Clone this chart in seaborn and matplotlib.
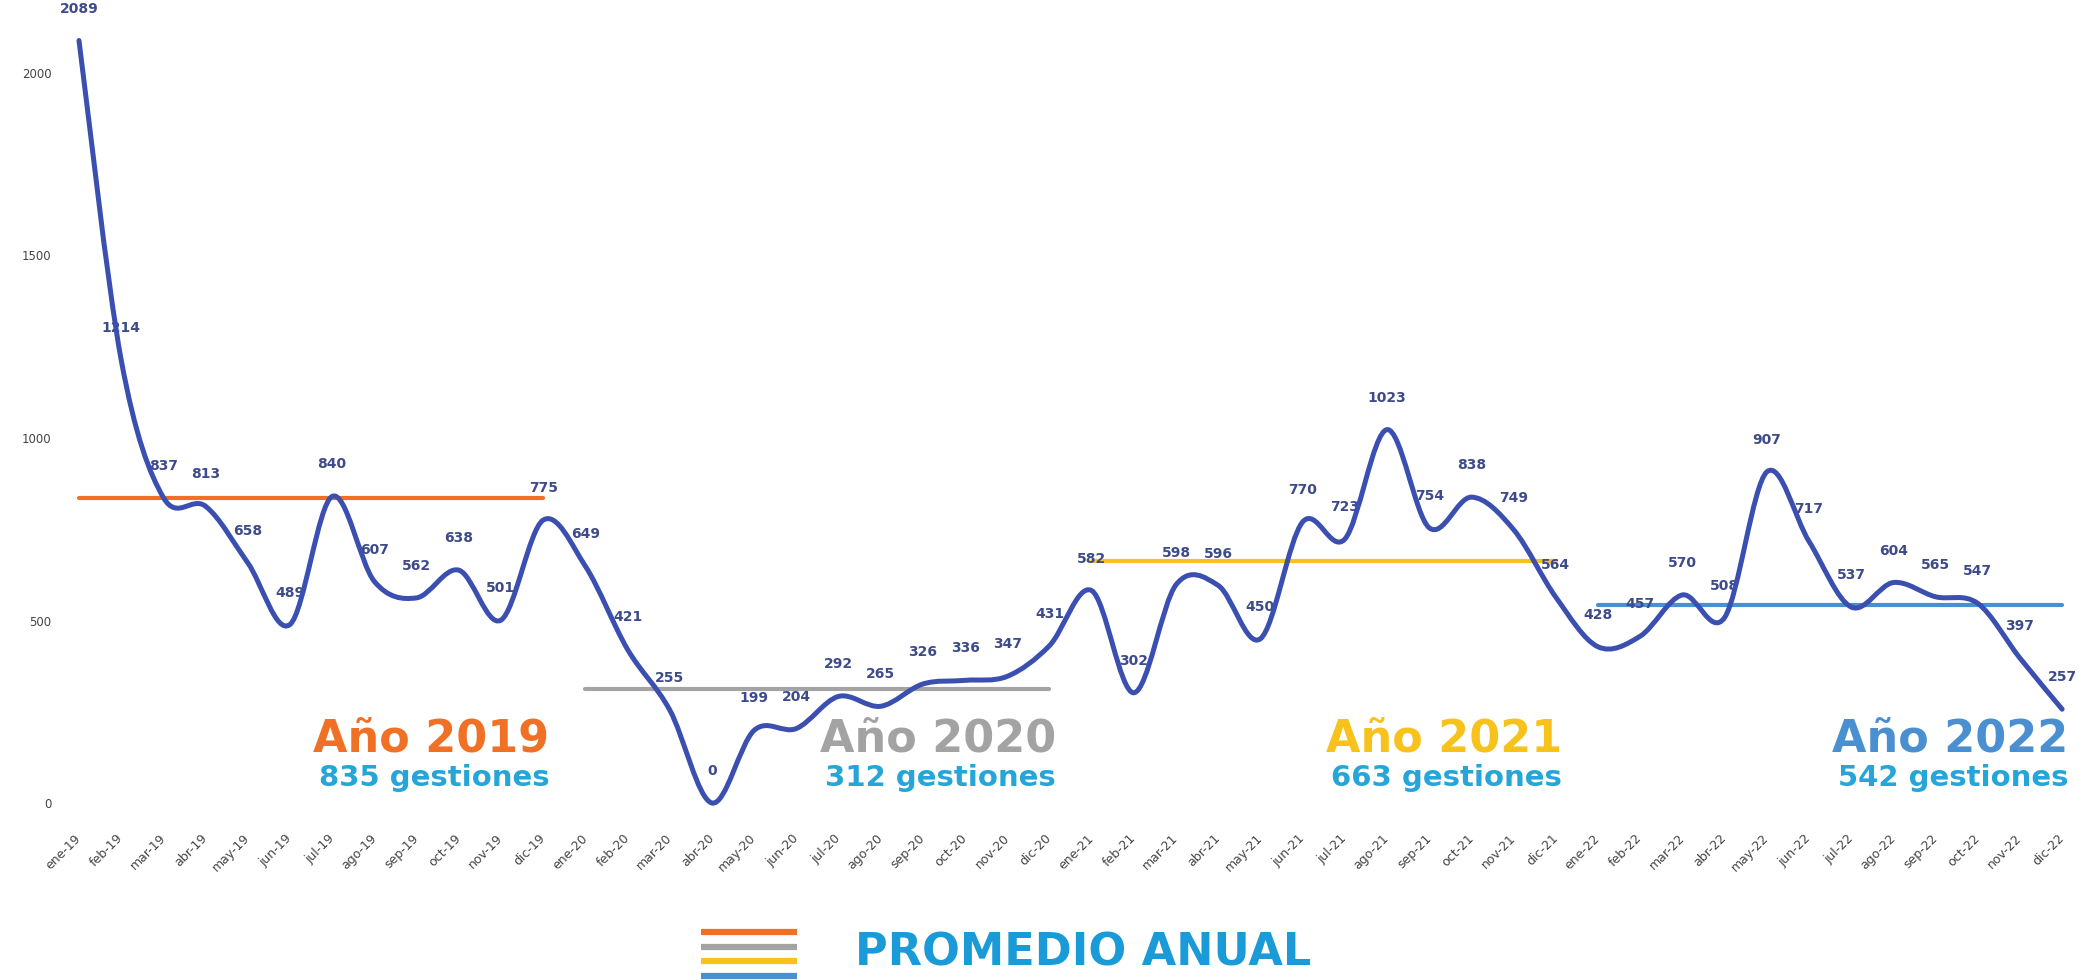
import numpy as np
import pandas as pd
import matplotlib
matplotlib.use("Agg")
import matplotlib.pyplot as plt
import seaborn as sns
from matplotlib.path import Path
from matplotlib.patches import PathPatch
from matplotlib.lines import Line2D

# Datos mensuales de gestiones
meses = ['ene', 'feb', 'mar', 'abr', 'may', 'jun', 'jul', 'ago', 'sep', 'oct', 'nov', 'dic']
anios = ['2019', '2020', '2021', '2022']

gestiones_2019 = [2089, 1214, 837, 813, 658, 489, 840, 607, 562, 638, 501, 775]
gestiones_2020 = [649, 421, 255, 0, 199, 204, 292, 265, 326, 336, 347, 431]
gestiones_2021 = [582, 302, 598, 596, 450, 770, 723, 1023, 754, 838, 749, 564]
gestiones_2022 = [428, 457, 570, 508, 907, 717, 537, 604, 565, 547, 397, 257]

# Promedio anual
promedios = [835, 312, 663, 542]

colores_anio = ['#f07126', '#a3a3a3', '#f6c21b', '#4a8fd0']
color_linea = '#3b4fb0'
color_etiqueta = '#3d4b8a'
color_gestiones = '#26a6d8'

sns.set_style("white")
plt.rcParams['font.family'] = ['DejaVu Sans']

valores = gestiones_2019 + gestiones_2020 + gestiones_2021 + gestiones_2022
etiquetas = [f"{m}-{a[2:]}" for a in anios for m in meses]

df = pd.DataFrame({
    'mes': np.arange(len(valores)),
    'gestiones': valores,
    'anio': np.repeat(anios, len(meses)),
})
df['promedio'] = df['anio'].map(dict(zip(anios, promedios)))

fig = plt.figure(figsize=(20.89, 9.8), dpi=100)
ax = fig.add_axes([60 / 2089, 177 / 980, 2019 / 2089, 803 / 980])

# Lineas de promedio anual
sns.lineplot(data=df, x='mes', y='promedio', hue='anio',
             palette=dict(zip(anios, colores_anio)), linewidth=3,
             legend=False, ax=ax, zorder=1)


def curva_suave(x, y):
    # curva suavizada tipo Excel (Catmull-Rom -> Bezier)
    pts = np.column_stack([x, y]).astype(float)
    verts = [pts[0]]
    codes = [Path.MOVETO]
    for i in range(len(pts) - 1):
        p0 = pts[i - 1] if i > 0 else pts[i]
        p1, p2 = pts[i], pts[i + 1]
        p3 = pts[i + 2] if i + 2 < len(pts) else p2
        verts += [p1 + (p2 - p0) / 6, p2 - (p3 - p1) / 6, p2]
        codes += [Path.CURVE4] * 3
    return Path(verts, codes)


ax.add_patch(PathPatch(curva_suave(df['mes'], df['gestiones']), fill=False,
                       edgecolor=color_linea, linewidth=3.6, zorder=3,
                       capstyle='round', joinstyle='round', clip_on=False))

# Etiquetas de datos
for i, v in zip(df['mes'], df['gestiones']):
    ax.annotate(str(v), (i, v), xytext=(0, 23), textcoords='offset points',
                ha='center', va='center', fontsize=10, fontweight='bold',
                color=color_etiqueta, zorder=2)

# Textos de cada anio
for k, anio in enumerate(anios):
    fin = (k + 1) * len(meses) - 1 + 0.15
    ax.text(fin, 175, f"Año {anio}", ha='right', va='center', fontsize=32,
            fontweight='bold', color=colores_anio[k], zorder=4)
    ax.text(fin, 68, f"{promedios[k]} gestiones", ha='right', va='center',
            fontsize=21, fontweight='bold', color=color_gestiones, zorder=4)

ax.set_xlim(-0.45, len(valores) - 1 + 0.4)
ax.set_ylim(0, 2200)
ax.set_xticks(df['mes'])
ax.set_xticklabels(etiquetas, rotation=45, ha='right', va='center',
                   rotation_mode='anchor', fontsize=9, color='#444444')
ax.set_yticks([0, 500, 1000, 1500, 2000])
ax.set_yticklabels(['0', '500', '1000', '1500', '2000'], fontsize=8.5,
                   color='#444444')
ax.tick_params(axis='x', length=14, width=1.2, color='#a0a0a0', pad=10)
ax.tick_params(axis='y', length=0, pad=6)
ax.set_xlabel('')
ax.set_ylabel('')
for s in ax.spines.values():
    s.set_visible(False)

# Leyenda "PROMEDIO ANUAL"
for k, c in enumerate(colores_anio):
    yy = 1 - (932 + k * 14.7) / 980
    fig.add_artist(Line2D([701 / 2089, 797 / 2089], [yy, yy], color=c,
                          linewidth=4.5, solid_capstyle='butt',
                          transform=fig.transFigure))
fig.text(855 / 2089, 1 - 953 / 980, "PROMEDIO ANUAL", ha='left', va='center',
         fontsize=32, fontweight='bold', color='#1a9ad6')

fig.savefig("out.png", dpi=100)
